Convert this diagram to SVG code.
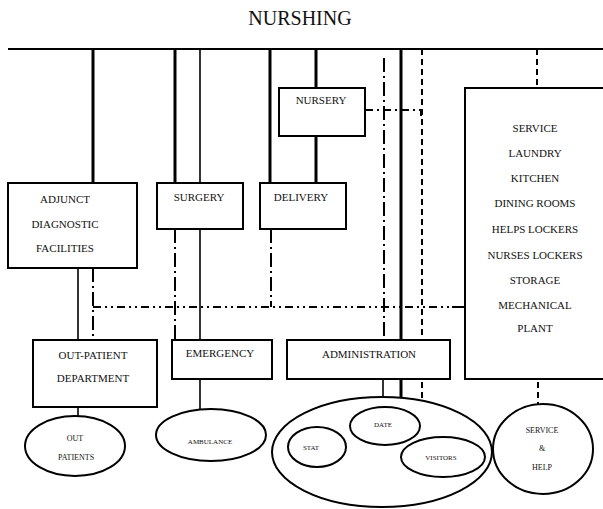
<svg xmlns="http://www.w3.org/2000/svg" width="603" height="509" viewBox="0 0 603 509">
<style>
.bx{fill:#fff;stroke:#000;stroke-width:2}
.el{fill:none;stroke:#000;stroke-width:2}
.t{font-family:"Liberation Serif","DejaVu Serif",serif;font-size:11px;fill:#111;text-anchor:middle}
.s{font-size:8px}
.ti{font-family:"Liberation Serif","DejaVu Serif",serif;font-size:20px;fill:#111;text-anchor:middle}
.thick{stroke:#000;stroke-width:3;fill:none}
.thin{stroke:#000;stroke-width:1.6;fill:none}
.dd{stroke:#000;stroke-width:2;fill:none;stroke-dasharray:8 4 2 4 2 4}
.dv{stroke:#000;stroke-width:2;fill:none;stroke-dasharray:14 4 2 4}
.da{stroke:#000;stroke-width:2;fill:none;stroke-dasharray:6 4}
</style>
<rect width="603" height="509" fill="#fff"/>
<text class="ti" x="300" y="25">NURSHING</text>
<g id="connectors">
<line class="thick" x1="8" y1="49" x2="603" y2="49" style="stroke-width:2"/>
<line class="thick" x1="93" y1="49" x2="93" y2="183"/>
<line class="thick" x1="175" y1="49" x2="175" y2="183"/>
<line class="thin" x1="200" y1="49" x2="200" y2="183"/>
<line class="thick" x1="270" y1="49" x2="270" y2="183"/>
<line class="thick" x1="316" y1="49" x2="316" y2="88"/>
<line class="thick" x1="316" y1="136" x2="316" y2="183"/>
<line class="dv" x1="384" y1="58" x2="384" y2="340"/>
<line class="thick" x1="401" y1="49" x2="401" y2="340"/>
<line class="da" x1="422" y1="49" x2="422" y2="340"/>
<line class="da" x1="537" y1="49" x2="537" y2="88"/>
<polyline class="dv" points="365,110 421,110 421,118" style="stroke-dasharray:8 4 2 4"/>
<line class="thin" x1="78" y1="268" x2="78" y2="340"/>
<line class="dv" x1="93" y1="268" x2="93" y2="340"/>
<line class="dv" x1="175" y1="229" x2="175" y2="340"/>
<line class="thin" x1="200" y1="229" x2="200" y2="340"/>
<polyline class="dv" points="271,229 271,307"/>
<line class="dd" x1="93" y1="307" x2="458" y2="307"/>
<line class="thin" x1="452" y1="307" x2="465" y2="307" style="stroke-width:2"/>
<line class="thin" x1="78" y1="407" x2="78" y2="416"/>
<line class="thin" x1="200" y1="379" x2="200" y2="409"/>
<line class="thin" x1="383" y1="379" x2="383" y2="398"/>
<line class="thick" x1="401" y1="379" x2="401" y2="398"/>
<line class="da" x1="422" y1="382" x2="422" y2="398"/>
<line class="da" x1="538" y1="382" x2="538" y2="404"/>
</g>
<g id="nursery">
<rect class="bx" x="279" y="88" width="86" height="48"/>
<text class="t" x="321" y="104">NURSERY</text>
</g>
<g id="service">
<rect class="bx" x="465" y="88" width="142" height="291"/>
<text class="t" x="535" y="132">SERVICE</text>
<text class="t" x="535" y="157">LAUNDRY</text>
<text class="t" x="535" y="182">KITCHEN</text>
<text class="t" x="535" y="207">DINING  ROOMS</text>
<text class="t" x="535" y="233">HELPS LOCKERS</text>
<text class="t" x="535" y="259">NURSES  LOCKERS</text>
<text class="t" x="535" y="284">STORAGE</text>
<text class="t" x="535" y="309">MECHANICAL</text>
<text class="t" x="535" y="332">PLANT</text>
</g>
<g id="adjunct">
<rect class="bx" x="8" y="183" width="129" height="85"/>
<text class="t" x="65" y="203">ADJUNCT</text>
<text class="t" x="65" y="228">DIAGNOSTIC</text>
<text class="t" x="65" y="252">FACILITIES</text>
</g>
<g id="surgery">
<rect class="bx" x="157" y="183" width="86" height="46"/>
<text class="t" x="199" y="201">SURGERY</text>
</g>
<g id="delivery">
<rect class="bx" x="260" y="183" width="86" height="46"/>
<text class="t" x="301" y="201">DELIVERY</text>
</g>
<g id="outpatient">
<rect class="bx" x="33" y="340" width="124" height="67"/>
<text class="t" x="93" y="359">OUT-PATIENT</text>
<text class="t" x="93" y="382">DEPARTMENT</text>
</g>
<g id="emergency">
<rect class="bx" x="172" y="340" width="100" height="39"/>
<text class="t" x="220" y="357">EMERGENCY</text>
</g>
<g id="administration">
<rect class="bx" x="287" y="340" width="163" height="39"/>
<text class="t" x="369" y="358">ADMINISTRATION</text>
</g>
<g id="outpatients">
<ellipse class="el" cx="75" cy="446" rx="50" ry="30"/>
<text class="t s" x="75" y="441">OUT</text>
<text class="t s" x="76" y="460">PATIENTS</text>
</g>
<g id="ambulance">
<ellipse class="el" cx="211" cy="435" rx="55" ry="26"/>
<text class="t s" x="210" y="444" style="font-size:7px">AMBULANCE</text>
</g>
<g id="entrance">
<ellipse class="el" cx="382" cy="452" rx="110" ry="55"/>
</g>
<g id="stat">
<ellipse class="el" cx="317" cy="447" rx="29" ry="20"/>
<text class="t s" x="311" y="450" style="font-size:7px">STAT</text>
</g>
<g id="date">
<ellipse class="el" cx="385" cy="426" rx="35" ry="19"/>
<text class="t s" x="383" y="427" style="font-size:7px">DATE</text>
</g>
<g id="visitors">
<ellipse class="el" cx="443" cy="457" rx="42" ry="20"/>
<text class="t s" x="441" y="460" style="font-size:7px">VISITORS</text>
</g>
<g id="servicehelp">
<ellipse class="el" cx="543" cy="449" rx="50" ry="45"/>
<text class="t s" x="542" y="433">SERVICE</text>
<text class="t s" x="542" y="451">&amp;</text>
<text class="t s" x="542" y="470">HELP</text>
</g>
</svg>
